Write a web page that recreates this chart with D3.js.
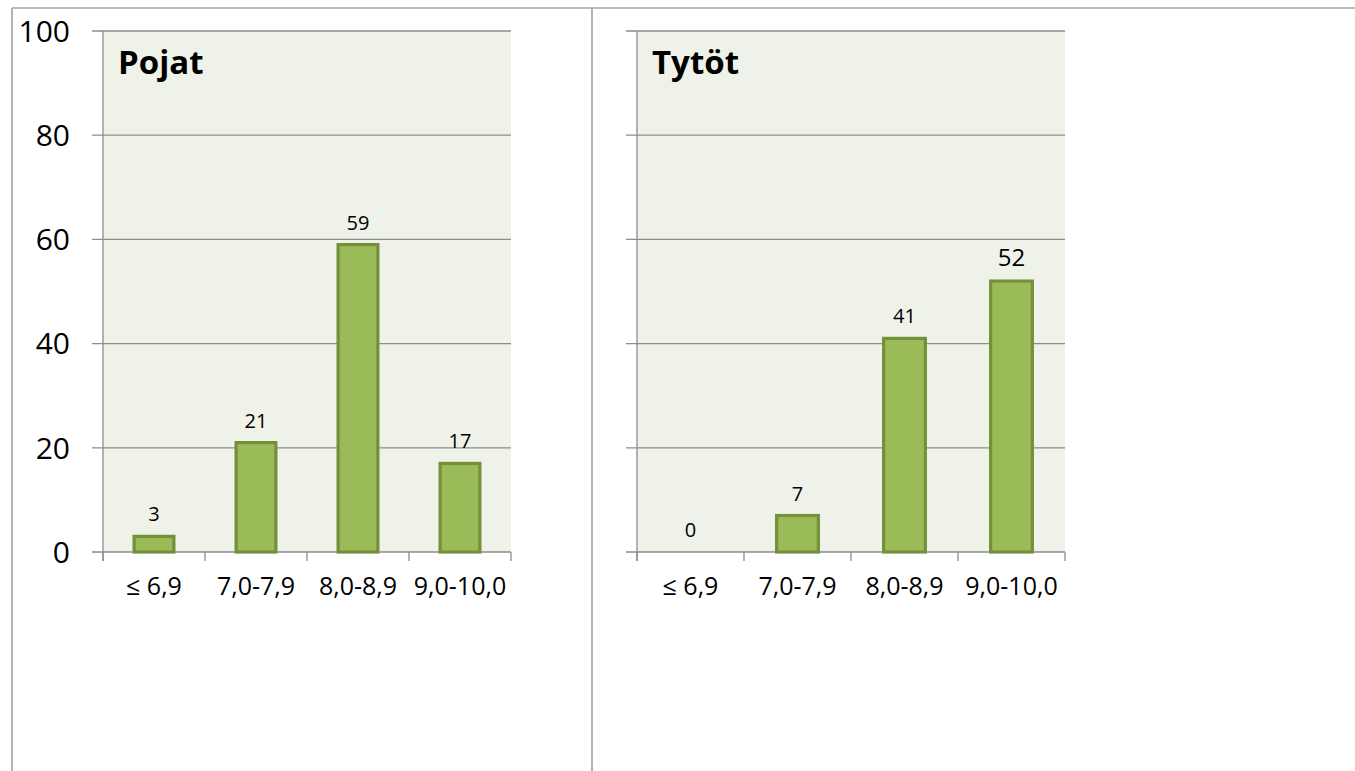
<!DOCTYPE html>
<html>
<head>
<meta charset="utf-8">
<script src="https://cdn.jsdelivr.net/npm/d3@7"></script>
<style>
  html, body { margin: 0; padding: 0; background: #ffffff; }
  svg { display: block; }
  text { font-family: "Open Sans", "Noto Sans", sans-serif; fill: #000; }
</style>
</head>
<body>
<svg id="chart" width="1355" height="771"></svg>
<script>
// ---- data ----
const categories = ["≤ 6,9", "7,0-7,9", "8,0-8,9", "9,0-10,0"];
const boysValues = [3, 21, 59, 17];
const girlsValues = [0, 7, 41, 52];
const panelTitles = ["Pojat", "Tytöt"];
const yTicks = [0, 20, 40, 60, 80, 100];

// ---- layout ----
const W = 1355, H = 771;
const svg = d3.select("#chart");
const plotTop = 31, plotBottom = 552;
const frameColor = "#a2a2a2";
const gridColor = "#8d8d8d";
const barFill = "#9bbb59";
const barStroke = "#74903b";
const plotBg = "#eff2e9";

// frame
svg.append("line").attr("x1", 12).attr("x2", W).attr("y1", 8).attr("y2", 8)
  .attr("stroke", frameColor).attr("stroke-width", 1.6);
svg.append("line").attr("x1", 12).attr("x2", 12).attr("y1", 8).attr("y2", H)
  .attr("stroke", frameColor).attr("stroke-width", 1.6);
svg.append("line").attr("x1", 592).attr("x2", 592).attr("y1", 8).attr("y2", H)
  .attr("stroke", frameColor).attr("stroke-width", 1.6);

const panels = [
  { title: panelTitles[0], values: boysValues, x0: 103, x1: 511, showYLabels: true },
  { title: panelTitles[1], values: girlsValues, x0: 637, x1: 1065, showYLabels: false }
];

const y = d3.scaleLinear().domain([0, 100]).range([plotBottom, plotTop]);

panels.forEach((p, pi) => {
  const g = svg.append("g");
  const x = d3.scaleBand().domain(categories).range([p.x0, p.x1]).padding(0);

  // plot background
  g.append("rect").attr("x", p.x0).attr("y", plotTop)
    .attr("width", p.x1 - p.x0).attr("height", plotBottom - plotTop)
    .attr("fill", plotBg);

  // gridlines with left tick marks
  g.selectAll("line.grid").data(yTicks).join("line")
    .attr("class", "grid")
    .attr("x1", p.x0 - 11).attr("x2", p.x1)
    .attr("y1", d => y(d)).attr("y2", d => y(d))
    .attr("stroke", gridColor).attr("stroke-width", 1.3);

  // y axis line
  g.append("line").attr("x1", p.x0).attr("x2", p.x0)
    .attr("y1", plotTop).attr("y2", plotBottom + 9)
    .attr("stroke", gridColor).attr("stroke-width", 1.3);

  // category tick marks (boundaries)
  const bounds = categories.map(c => x(c)).concat([p.x1]);
  g.selectAll("line.ctick").data(bounds).join("line")
    .attr("class", "ctick")
    .attr("x1", d => d).attr("x2", d => d)
    .attr("y1", plotBottom).attr("y2", plotBottom + 9)
    .attr("stroke", gridColor).attr("stroke-width", 1.3);

  // y tick labels
  if (p.showYLabels) {
    g.selectAll("text.ylab").data(yTicks).join("text")
      .attr("class", "ylab")
      .attr("x", 70).attr("y", d => y(d))
      .attr("dy", "0.36em")
      .attr("text-anchor", "end")
      .attr("font-size", 30)
      .text(d => d);
  }

  // bars
  const bw = x.bandwidth() * 0.39;
  g.selectAll("rect.bar").data(p.values).join("rect")
    .attr("class", "bar")
    .attr("x", (d, i) => x(categories[i]) + x.bandwidth() / 2 - bw / 2)
    .attr("y", d => y(d))
    .attr("width", bw)
    .attr("height", d => y(0) - y(d))
    .attr("fill", barFill)
    .attr("stroke", d => d > 0 ? barStroke : "none")
    .attr("stroke-width", 3.2);

  // value labels
  g.selectAll("text.val").data(p.values).join("text")
    .attr("class", "val")
    .attr("x", (d, i) => x(categories[i]) + x.bandwidth() / 2)
    .attr("y", d => y(d) - 15)
    .attr("text-anchor", "middle")
    .attr("font-size", (d, i) => (pi === 1 && i === 3) ? 24 : 20)
    .text(d => d);

  // category labels
  g.selectAll("text.cat").data(categories).join("text")
    .attr("class", "cat")
    .attr("x", d => x(d) + x.bandwidth() / 2)
    .attr("y", 595)
    .attr("text-anchor", "middle")
    .attr("font-size", 25)
    .text(d => d);

  // title
  g.append("text")
    .attr("x", p.x0 + 15).attr("y", 74)
    .attr("font-size", 33)
    .attr("font-weight", "bold")
    .text(p.title);
});
</script>
</body>
</html>
